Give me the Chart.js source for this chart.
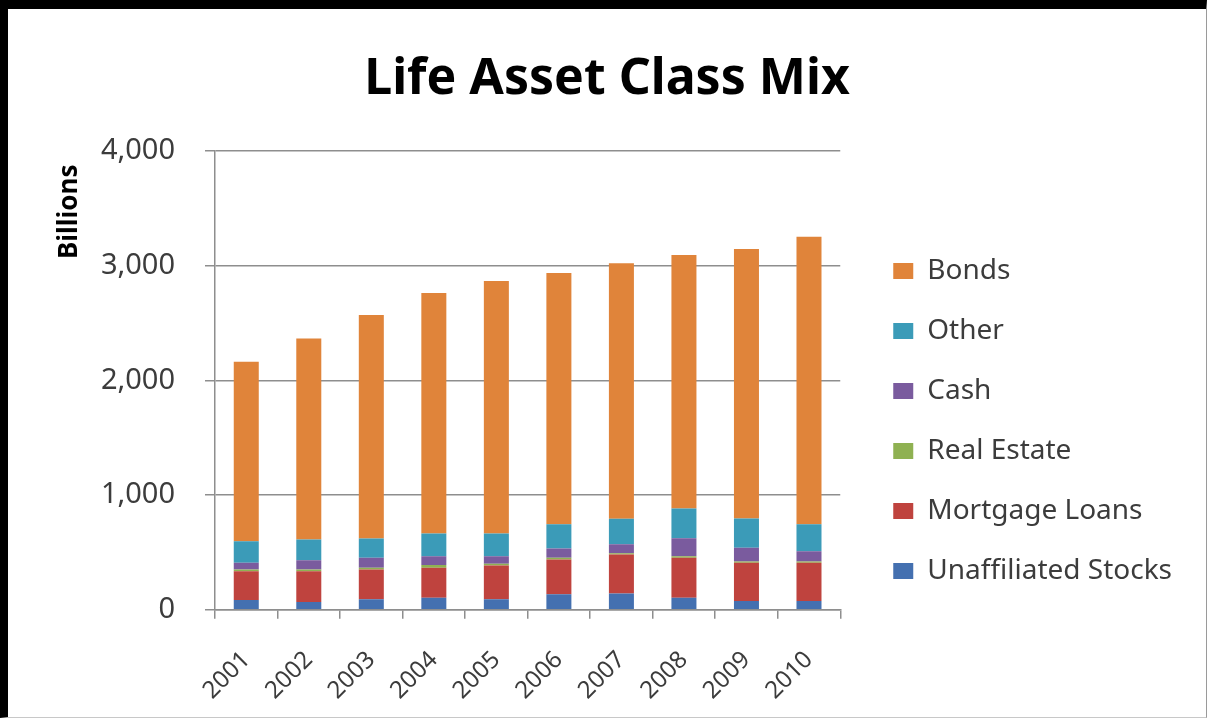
<!DOCTYPE html>
<html>
<head>
<meta charset="utf-8">
<script src="https://cdn.jsdelivr.net/npm/chart.js@4/dist/chart.umd.min.js"></script>
<style>
  html, body { margin: 0; padding: 0; background: #fff; }
  #frame {
    position: absolute; left: 0; top: 0;
    width: 1198px; height: 708px;
    border-top: 9px solid #000; border-left: 8px solid #000;
    border-right: 1px solid #9a9a9a; border-bottom: 1px solid #c8c8c8;
  }
  canvas { display: block; }
</style>
</head>
<body>
<div id="frame"><canvas id="c" width="1198" height="708"></canvas></div>
<script>
// years on the x axis
var years = ["2001", "2002", "2003", "2004", "2005", "2006", "2007", "2008", "2009", "2010"];
// values in billions (bottom to top of each stack)
var unaffiliatedStocks = [85, 68, 91, 106, 91, 135, 143, 106, 77, 77];
var mortgageLoans = [252, 269, 261, 260, 296, 304, 340, 348, 333, 333];
var realEstate = [15, 15, 15, 25, 15, 15, 10, 14, 12, 12];
var cash = [58, 81, 87, 77, 66, 81, 79, 156, 119, 88];
var other = [188, 180, 168, 197, 197, 211, 221, 260, 256, 236];
var bonds = [1565, 1752, 1949, 2098, 2202, 2191, 2229, 2209, 2348, 2506];
var yTicks = [0, 1000, 2000, 3000, 4000];

var txt = "#3c3c3c";
var gridCol = "#8e8e8e";
var fam = "'Noto Sans'";

function ds(label, values, color) {
  return {
    label: label,
    data: values,
    backgroundColor: color,
    borderWidth: 0,
    categoryPercentage: 1,
    barPercentage: 0.4
  };
}

new Chart(document.getElementById("c"), {
  type: "bar",
  data: {
    labels: years,
    datasets: [
      ds("Unaffiliated Stocks", unaffiliatedStocks, "#4470b0"),
      ds("Mortgage Loans", mortgageLoans, "#bf433e"),
      ds("Real Estate", realEstate, "#8fb152"),
      ds("Cash", cash, "#7a5b9e"),
      ds("Other", other, "#3b9bb8"),
      ds("Bonds", bonds, "#e0843a")
    ]
  },
  options: {
    responsive: false,
    animation: false,
    layout: { padding: { left: 24, right: 24, bottom: 10, top: 0 } },
    plugins: {
      tooltip: { enabled: false },
      title: {
        display: true,
        text: "Life Asset Class Mix",
        color: "#000",
        font: { family: fam, size: 50, weight: "bold" },
        padding: { top: 41, bottom: 41 }
      },
      legend: {
        position: "right",
        align: "start",
        reverse: true,
        maxWidth: 400,
        title: { display: true, text: " ", font: { size: 10 }, padding: { top: 204, bottom: 0 } },
        labels: {
          color: txt,
          font: { family: fam, size: 28 },
          boxWidth: 20,
          boxHeight: 16,
          padding: 32
        }
      }
    },
    scales: {
      x: {
        stacked: true,
        afterFit: function(scale) { scale.height = scale.height - 25; },
        grid: { drawOnChartArea: false, offset: true, tickLength: 9, color: gridCol, lineWidth: 1.5 },
        border: { color: gridCol, width: 1.5 },
        ticks: {
          color: txt,
          font: { family: fam, size: 24 },
          minRotation: 45, maxRotation: 45,
          padding: 27
        }
      },
      y: {
        stacked: true,
        min: 0, max: 4000,
        afterBuildTicks: function(scale) {
          scale.ticks = yTicks.map(function(v) { return { value: v }; });
        },
        afterFit: function(scale) { scale.width = 183; },
        grid: { tickLength: 10, color: gridCol, lineWidth: 1.5 },
        border: { color: gridCol, width: 1.5 },
        ticks: {
          color: txt,
          font: { family: fam, size: 29 },
          padding: 30,
          callback: function(v) { return v.toLocaleString("en-US"); }
        },
        title: {
          display: true,
          text: "Billions  ",
          align: "end",
          color: "#000",
          font: { family: fam, size: 26, weight: "bold" },
          padding: { top: 22, bottom: 3 }
        }
      },
      // empty spacer between the plot and the legend
      gap: {
        position: "right",
        grid: { display: false },
        border: { display: false },
        ticks: { display: false },
        afterFit: function(scale) { scale.width = 21; }
      }
    }
  }
});
</script>
</body>
</html>
